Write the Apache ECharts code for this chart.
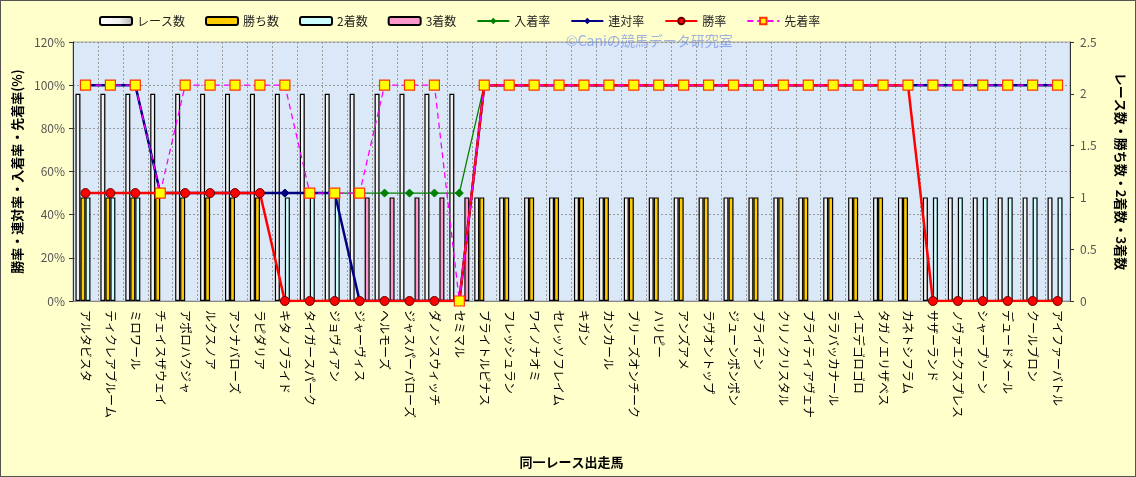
<!DOCTYPE html>
<html>
<head>
<meta charset="utf-8">
<script src="https://cdn.jsdelivr.net/npm/echarts@6/dist/echarts.min.js"></script>
<style>
html,body{margin:0;padding:0;background:#ffffcc;}
#wrap{position:absolute;left:0;top:0;width:1134px;height:475px;border:1px solid #555;background:#ffffcc;}
#chart{width:1134px;height:475px;}
</style>
</head>
<body>
<div id="wrap"><div id="chart"></div></div>
<script>
const horses = ["アルタビスタ","ティクレアブルーム","ミロワール","チェイスザウェイ","アポロハクジャ","ルクスノア","アンナバローズ","ラピダリア","キタノブライド","タイガースパーク","ジョヴィアン","ジャーヴィス","ヘルモーズ","ジャスパーバローズ","ダノンスウィッチ","セミマル","ブライトルピナス","フレッシュラン","ワイノナオミ","セレッソフレイム","キガン","カンカール","ブリーズオンチーク","ハリピー","アンズアメ","ラヴオントップ","ジューンポンポン","ブライテン","クリノクリスタル","ブライティアヴェナ","ララバッカナール","イエデゴロゴロ","タガノエリザベス","カネトシフラム","サザーランド","ノヴァエクスプレス","シャープソーン","デュードメール","クールブロン","アイファーバトル"];
const races  = [2,2,2,2,2,2,2,2,2,2,2,2,2,2,2,2,1,1,1,1,1,1,1,1,1,1,1,1,1,1,1,1,1,1,1,1,1,1,1,1];
const wins   = [1,1,1,1,1,1,1,1,0,0,0,0,0,0,0,0,1,1,1,1,1,1,1,1,1,1,1,1,1,1,1,1,1,1,0,0,0,0,0,0];
const second = [1,1,1,0,0,0,0,0,1,1,1,0,0,0,0,0,0,0,0,0,0,0,0,0,0,0,0,0,0,0,0,0,0,0,1,1,1,1,1,1];
const third  = [0,0,0,0,0,0,0,0,0,0,0,1,1,1,1,1,0,0,0,0,0,0,0,0,0,0,0,0,0,0,0,0,0,0,0,0,0,0,0,0];
const placeRate = [100,100,100,50,50,50,50,50,50,50,50,50,50,50,50,50,100,100,100,100,100,100,100,100,100,100,100,100,100,100,100,100,100,100,100,100,100,100,100,100];
const top2Rate  = [100,100,100,50,50,50,50,50,50,50,50,0,0,0,0,0,100,100,100,100,100,100,100,100,100,100,100,100,100,100,100,100,100,100,100,100,100,100,100,100];
const winRate   = [50,50,50,50,50,50,50,50,0,0,0,0,0,0,0,0,100,100,100,100,100,100,100,100,100,100,100,100,100,100,100,100,100,100,0,0,0,0,0,0];
const aheadRate = [100,100,100,50,100,100,100,100,100,50,50,50,100,100,100,0,100,100,100,100,100,100,100,100,100,100,100,100,100,100,100,100,100,100,100,100,100,100,100,100];
const leftTicks = [0,20,40,60,80,100,120];
const rightTicks = [0,0.5,1,1.5,2,2.5];

const font = '"Noto Sans CJK JP", sans-serif';
const noZero = arr => arr.map(v => v === 0 ? null : v);
const chart = echarts.init(document.getElementById('chart'));
const barBorder = {borderColor:'#000', borderWidth:1.2};
chart.setOption({
  backgroundColor:'#ffffcc',
  textStyle:{fontFamily:font},
  animation:false,
  legend:{
    top:9, left:93, itemGap:20, itemWidth:32, itemHeight:8,
    textStyle:{fontSize:12,color:'#222',fontFamily:font},
    data:[
      {name:'レース数',icon:'roundRect'},{name:'勝ち数',icon:'roundRect'},{name:'2着数',icon:'roundRect'},{name:'3着数',icon:'roundRect'},
      '入着率','連対率','勝率','先着率']
  },
  graphic:[{type:'text',left:565,top:33,style:{text:'©Caniの競馬データ研究室',fill:'rgba(100,130,235,0.62)',font:'14px '+font}}],
  grid:{left:72,right:64,top:41,bottom:175,show:true,backgroundColor:'#dbe8f7',borderColor:'#a8a8a8',borderWidth:1},
  xAxis:{
    type:'category', data:horses,
    name:'同一レース出走馬', nameLocation:'middle', nameGap:155,
    nameTextStyle:{fontSize:13,fontWeight:'bold',color:'#000',fontFamily:font},
    axisLine:{show:true,lineStyle:{color:'#888'}}, axisTick:{show:false},
    axisLabel:{interval:0, rotate:-90, fontSize:12, color:'#000', margin:9, fontFamily:font},
    splitLine:{show:true, interval:0, lineStyle:{color:'#9a9a9a',type:[2,2],width:1}}
  },
  yAxis:[
    {type:'value',min:0,max:120,interval:20,position:'left',
     name:'勝率・連対率・入着率・先着率(%)',nameLocation:'middle',nameRotate:90,nameGap:48,
     nameTextStyle:{fontSize:13,fontWeight:'bold',color:'#000',fontFamily:font},
     axisLine:{show:true,lineStyle:{color:'#333'}},axisTick:{show:true,inside:false,length:4,lineStyle:{color:'#333'}},
     axisLabel:{formatter:v=>leftTicks.includes(v)?v+'%':'',fontSize:12,color:'#555',margin:8},
     splitLine:{show:true,lineStyle:{color:'#9a9a9a',type:[2,2],width:1}}},
    {type:'value',min:0,max:2.5,interval:0.5,position:'right',
     name:'レース数・勝ち数・2着数・3着数',nameLocation:'middle',nameRotate:-90,nameGap:44,
     nameTextStyle:{fontSize:13,fontWeight:'bold',color:'#000',fontFamily:font},
     axisLine:{show:true,lineStyle:{color:'#333'}},axisTick:{show:true,length:4,lineStyle:{color:'#333'}},
     axisLabel:{formatter:v=>rightTicks.includes(v)?String(v):'',fontSize:12,color:'#555',margin:10},
     splitLine:{show:false}}
  ],
  series:[
    {name:'レース数',type:'bar',yAxisIndex:1,data:noZero(races),barWidth:5,barGap:'0%',
     itemStyle:Object.assign({color:new echarts.graphic.LinearGradient(0,0,1,0,[{offset:0,color:'#ffffff'},{offset:0.6,color:'#f0f0f0'},{offset:1,color:'#b0b0b0'}])},barBorder)},
    {name:'勝ち数',type:'bar',yAxisIndex:1,data:noZero(wins),barWidth:5,barGap:'0%',itemStyle:Object.assign({color:'#ffcc00'},barBorder)},
    {name:'2着数',type:'bar',yAxisIndex:1,data:noZero(second),barWidth:5,barGap:'0%',itemStyle:Object.assign({color:'#ccffff'},barBorder)},
    {name:'3着数',type:'bar',yAxisIndex:1,data:noZero(third),barWidth:5,barGap:'0%',itemStyle:Object.assign({color:'#ff99cc'},barBorder)},
    {name:'入着率',type:'line',yAxisIndex:0,data:placeRate,symbol:'diamond',symbolSize:8,
     lineStyle:{color:'#008000',width:1.3},itemStyle:{color:'#008000',borderColor:'#008000'},z:3},
    {name:'連対率',type:'line',yAxisIndex:0,data:top2Rate,symbol:'diamond',symbolSize:8,
     lineStyle:{color:'#000080',width:2.5},itemStyle:{color:'#000080',borderColor:'#000080'},z:4},
    {name:'勝率',type:'line',yAxisIndex:0,data:winRate,symbol:'circle',symbolSize:9,
     lineStyle:{color:'#ff0000',width:2.5},itemStyle:{color:'#ff0000',borderColor:'#660000',borderWidth:1},z:5},
    {name:'先着率',type:'line',yAxisIndex:0,data:aheadRate,symbol:'rect',symbolSize:10,
     lineStyle:{color:'#ff00ff',width:1.3,type:[6,4]},itemStyle:{color:'#ffff00',borderColor:'#ff3300',borderWidth:1.2},z:6}
  ]
});
</script>
</body>
</html>
